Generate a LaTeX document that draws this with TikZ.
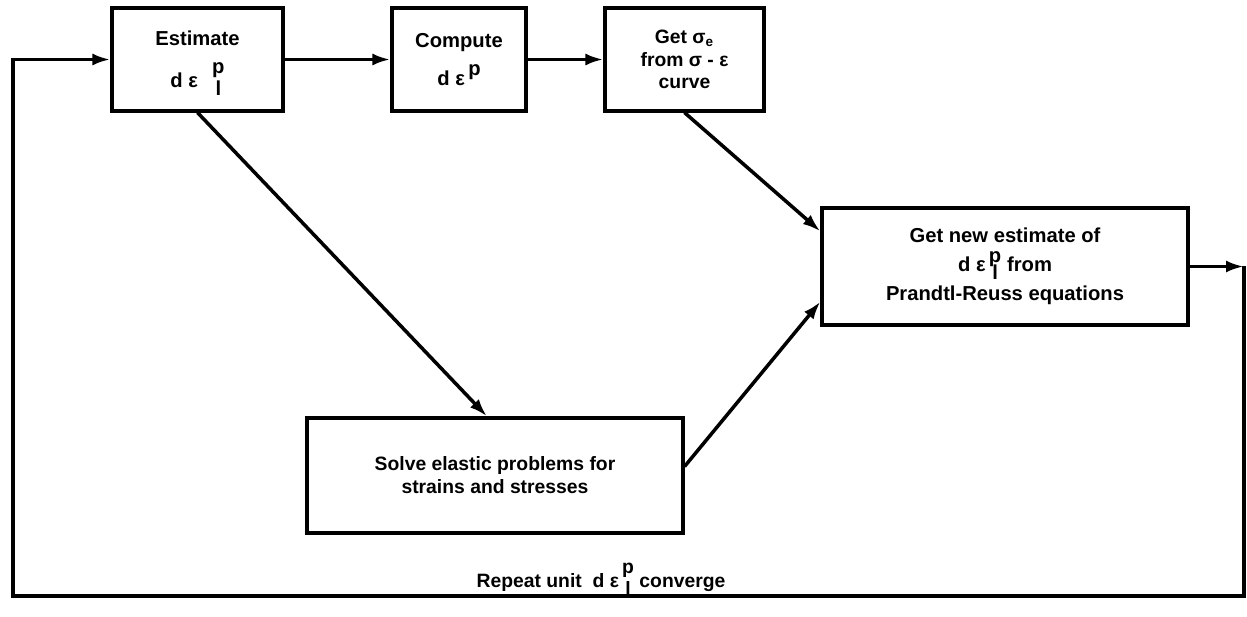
\documentclass[tikz,border=0pt]{standalone}
\usepackage{fontspec}
\setmainfont{Liberation Sans}
\usetikzlibrary{arrows.meta,calc}

% stacked p over l (optional: raise of the p)
\newcommand{\pl}[1][8pt]{\smash{\rlap{\raisebox{#1}{p}}\hspace{0.17em}\raisebox{-4.5pt}{l}\hspace{0.17em}}}

\begin{document}
\begin{tikzpicture}[x=0.02cm,y=-0.02cm,
  box/.style={draw,line width=1.8pt,minimum height=2.06cm,align=center,inner sep=2pt,
    font=\bfseries\fontsize{11.5}{16}\selectfont},
  flow/.style={line width=2pt,-{Latex[length=3.6mm,width=2.4mm]}}]

\useasboundingbox (0,0) rectangle (1247,617);

% top row
\node[box,minimum width=3.42cm] (est) at (197.5,59.5) {Estimate\\[8pt]d ε\hspace{0.7em}\pl};
\node[box,minimum width=2.68cm] (comp) at (459,59.5) {Compute\\[6pt]d ε\,\raisebox{6pt}{p}};
\node[box,minimum width=3.18cm,font=\bfseries\fontsize{11}{13}\selectfont] (sig) at (684.5,59.5)
  {Get σ\textsubscript{e}\\from σ - ε\\curve};

% right and bottom boxes
\node[box,minimum width=7.32cm,minimum height=2.34cm,font=\bfseries\fontsize{11.5}{16.5}\selectfont] (newest) at (1005,266.5)
  {Get new estimate of\\d ε\,\pl[5.5pt]\ from\\Prandtl-Reuss equations};
\node[box,minimum width=7.52cm,minimum height=2.3cm,font=\bfseries\fontsize{11}{13}\selectfont] (solve) at (495,475.5)
  {Solve elastic problems for\\strains and stresses};

% loop back
\coordinate (tr) at (1244,266.5);
\coordinate (br) at (1244,596);
\coordinate (bl) at (13,596);
\coordinate (tl) at (13,59.5);

\node[anchor=base,font=\bfseries\fontsize{11}{13}\selectfont] (rep) at (601,588)
  {Repeat unit\ \ d ε\,\pl\ converge};

\draw[flow] (est) -- (comp);
\draw[flow] (comp) -- (sig);
\draw[flow] (est.south) -- ($(solve.north)+(-8,0)$);
\draw[flow] (sig.south) -- ($(newest.north west)+(0,25)$);
\draw[flow] ($(solve.east)+(0,-9)$) -- ($(newest.south west)+(0,-25)$);
\draw[flow] (newest.east) -- (tr);
\draw[flow] (tr) -- (br) -- (bl) -- (tl) -- (est.west);

\end{tikzpicture}
\end{document}
